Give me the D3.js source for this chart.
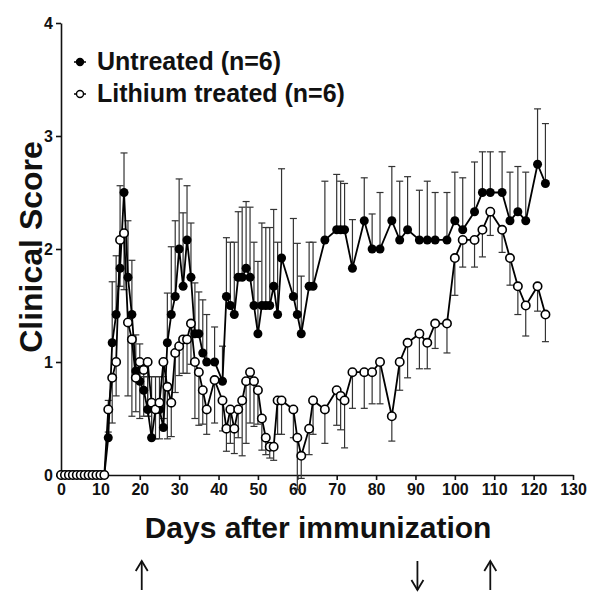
<!DOCTYPE html>
<html>
<head>
<meta charset="utf-8">
<script src="https://cdn.jsdelivr.net/npm/d3@7"></script>
<style>
  body { margin: 0; background: #fff; }
  svg { display: block; font-family: "Liberation Sans", Arial, sans-serif; }
</style>
</head>
<body>
<div id="vis"></div>
<script>
// days after immunization
var days = [0,1,2,3,4,5,6,7,8,9,10,11,
  12,13,14,15,16,17,18,19,20,21,22,23,24,25,26,27,28,29,30,31,32,33,34,35,36,37,
  39,41,42,43,44,45,46,47,48,49,50,51,52,53,54,55,56,
  59,60,61,63,64,67,70,71,72,74,77,79,81,84,86,88,91,93,95,98,100,
  102,105,107,109,112,114,116,118,121,123];

// untreated: mean and SEM (bars drawn upward)
var untreated = [0,0,0,0,0,0,0,0,0,0,0,0,
  0.33,1.17,1.42,1.83,2.5,1.75,1.42,0.92,0.83,0.75,0.58,0.33,0.58,0.58,0.42,1.17,1.42,1.58,2.0,1.67,2.08,1.75,1.25,1.25,1.08,1.0,
  1.0,0.83,1.58,1.5,1.42,1.75,1.75,1.83,1.75,1.5,1.25,1.5,1.5,1.5,1.67,1.42,1.92,
  1.58,1.42,1.25,1.67,1.67,2.08,2.17,2.17,2.17,1.83,2.25,2.0,2.0,2.25,2.08,2.17,2.08,2.08,2.08,2.08,2.25,
  2.17,2.33,2.5,2.5,2.5,2.25,2.33,2.25,2.75,2.58];
var untreatedErr = [0,0,0,0,0,0,0,0,0,0,0,0,
  0.33,0.54,0.52,0.73,0.35,0.5,0.48,0.32,0.33,0.12,0.29,0.54,0.29,0.29,0.45,0.44,0.6,0.67,0.62,0.65,0.48,0.48,0.45,0.37,0.47,0.42,
  0.31,0.31,0.52,0.56,0.64,0.58,0.62,0.59,0.62,0.56,0.64,0.73,0.69,0.69,0.68,0.64,0.79,
  0.69,0.63,0.51,0.39,0.39,0.52,0.49,0.43,0.41,0.43,0.38,0.31,0.5,0.48,0.52,0.47,0.44,0.52,0.42,0.42,0.43,
  0.46,0.44,0.36,0.36,0.36,0.43,0.4,0.43,0.49,0.53];

// lithium treated: mean and SEM (bars drawn downward)
var lithium = [0,0,0,0,0,0,0,0,0,0,0,0,
  0.58,0.86,1.0,2.08,2.14,1.35,1.2,0.86,1.0,0.93,1.0,0.64,0.58,0.64,1.0,0.78,0.64,1.08,1.14,1.2,1.2,1.34,1.0,0.91,0.75,0.58,
  0.84,0.66,0.41,0.58,0.41,0.58,0.66,0.83,0.91,0.83,0.75,0.5,0.33,0.25,0.25,0.66,0.66,
  0.58,0.33,0.17,0.41,0.66,0.58,0.75,0.7,0.66,0.91,0.91,0.91,1.0,0.52,1.0,1.17,1.25,1.17,1.34,1.34,1.92,
  2.08,2.08,2.17,2.33,2.17,1.92,1.67,1.5,1.67,1.42];
var lithiumErr = [0,0,0,0,0,0,0,0,0,0,0,0,
  0.2,0.4,0.3,0.41,0.5,0.65,0.68,0.3,0.5,0.41,0.48,0.32,0.26,0.32,0.5,0.46,0.3,0.35,0.26,0.3,0.3,0.36,0.5,0.47,0.3,0.22,
  0.38,0.27,0.2,0.3,0.22,0.25,0.49,0.55,0.45,0.4,0.3,0.28,0.15,0.1,0.12,0.3,0.3,
  0.25,0.46,0.2,0.23,0.3,0.3,0.31,0.3,0.42,0.32,0.32,0.28,0.37,0.22,0.25,0.31,0.31,0.23,0.22,0.26,0.33,
  0.24,0.24,0.24,0.21,0.2,0.24,0.25,0.27,0.22,0.24];

var seriesNames = ["Untreated (n=6)", "Lithium treated (n=6)"];
var xTicks = [0,10,20,30,40,50,60,70,80,90,100,110,120,130];
var yTicks = [0,1,2,3,4];

// treatment arrows under the axis title
var arrowDays = [20.5, 90.5, 109];
var arrowDir = ["up", "down", "up"];

var width = 600, height = 600;
var margin = {top: 23, right: 27, bottom: 125, left: 61};

var x = d3.scaleLinear().domain([0, 130]).range([margin.left, width - margin.right]);
var y = d3.scaleLinear().domain([0, 4]).range([height - margin.bottom, margin.top]);

var svg = d3.select("#vis").append("svg")
    .attr("width", width)
    .attr("height", height);

////////// axes //////////

var xAxis = svg.append("g")
    .attr("transform", "translate(0," + y(0) + ")")
    .call(d3.axisBottom(x).tickValues(xTicks).tickSize(5).tickPadding(4).tickSizeOuter(0));

var yAxis = svg.append("g")
    .attr("transform", "translate(" + x(0) + ",0)")
    .call(d3.axisLeft(y).tickValues(yTicks).tickSize(5).tickPadding(3).tickFormat(d3.format("d")).tickSizeOuter(0));

[xAxis, yAxis].forEach(function(a) {
  a.selectAll("path, line").attr("stroke", "#111").attr("stroke-width", 1.6);
  a.selectAll("text").attr("fill", "#111").style("font-size", "16px").style("font-weight", "bold");
});

svg.append("text")
    .attr("transform", "translate(42," + ((y(0) + y(4)) / 2 - 2) + ") rotate(-90)")
    .attr("text-anchor", "middle")
    .style("font-size", "32px")
    .style("font-weight", "bold")
    .attr("fill", "#111")
    .text("Clinical Score");

svg.append("text")
    .attr("x", (x(0) + x(130)) / 2 + 1)
    .attr("y", 538)
    .attr("text-anchor", "middle")
    .style("font-size", "30px")
    .style("font-weight", "bold")
    .attr("fill", "#111")
    .text("Days after immunization");

////////// data //////////

var rows = days.map(function(d, i) {
  return {day: d, u: untreated[i], ue: untreatedErr[i], l: lithium[i], le: lithiumErr[i]};
});

var plot = svg.append("g");
var capW = 3.5;

function errorBars(key, errKey, dir) {
  var g = plot.append("g").attr("stroke", "#333").attr("stroke-width", 1.2);
  var withErr = rows.filter(function(d) { return d[errKey] > 0; });
  g.selectAll("line.bar").data(withErr).enter().append("line")
      .attr("x1", function(d) { return x(d.day); })
      .attr("x2", function(d) { return x(d.day); })
      .attr("y1", function(d) { return y(d[key]); })
      .attr("y2", function(d) { return y(d[key] + dir * d[errKey]); });
  g.selectAll("line.cap").data(withErr).enter().append("line")
      .attr("x1", function(d) { return x(d.day) - capW; })
      .attr("x2", function(d) { return x(d.day) + capW; })
      .attr("y1", function(d) { return y(d[key] + dir * d[errKey]); })
      .attr("y2", function(d) { return y(d[key] + dir * d[errKey]); });
}

errorBars("u", "ue", 1);
errorBars("l", "le", -1);

function drawLine(key) {
  plot.append("path")
      .datum(rows)
      .attr("fill", "none")
      .attr("stroke", "#000")
      .attr("stroke-width", 1.8)
      .attr("d", d3.line().x(function(d) { return x(d.day); }).y(function(d) { return y(d[key]); }));
}

drawLine("u");
drawLine("l");

plot.append("g").selectAll("circle").data(rows).enter().append("circle")
    .attr("cx", function(d) { return x(d.day); })
    .attr("cy", function(d) { return y(d.u); })
    .attr("r", 4.5)
    .attr("fill", "#000");

plot.append("g").selectAll("circle").data(rows).enter().append("circle")
    .attr("cx", function(d) { return x(d.day); })
    .attr("cy", function(d) { return y(d.l); })
    .attr("r", 4.2)
    .attr("fill", "#fff")
    .attr("stroke", "#000")
    .attr("stroke-width", 1.6);

////////// legend //////////

var legend = svg.append("g");
seriesNames.forEach(function(name, i) {
  var ly = 62 + i * 32;
  legend.append("line")
      .attr("x1", 74).attr("x2", 86).attr("y1", ly).attr("y2", ly)
      .attr("stroke", "#000").attr("stroke-width", 1.5);
  legend.append("circle")
      .attr("cx", 80).attr("cy", ly).attr("r", 3.5)
      .attr("fill", i === 0 ? "#000" : "#fff")
      .attr("stroke", "#000").attr("stroke-width", 1.4);
  legend.append("text")
      .attr("x", 97).attr("y", ly + 8)
      .style("font-size", "25px")
      .style("font-weight", "bold")
      .attr("fill", "#111")
      .text(name);
});

////////// arrows //////////

var arrows = svg.append("g").attr("stroke", "#111").attr("stroke-width", 1.8).attr("fill", "none");
arrowDays.forEach(function(d, i) {
  var ax = x(d), top = 561, bottom = 590;
  arrows.append("line").attr("x1", ax).attr("x2", ax).attr("y1", top).attr("y2", bottom);
  var tip = arrowDir[i] === "up" ? top : bottom;
  var s = arrowDir[i] === "up" ? 1 : -1;
  arrows.append("path")
      .attr("d", "M" + (ax - 6) + "," + (tip + s * 10) + "L" + ax + "," + tip + "L" + (ax + 6) + "," + (tip + s * 10));
});
</script>
</body>
</html>
